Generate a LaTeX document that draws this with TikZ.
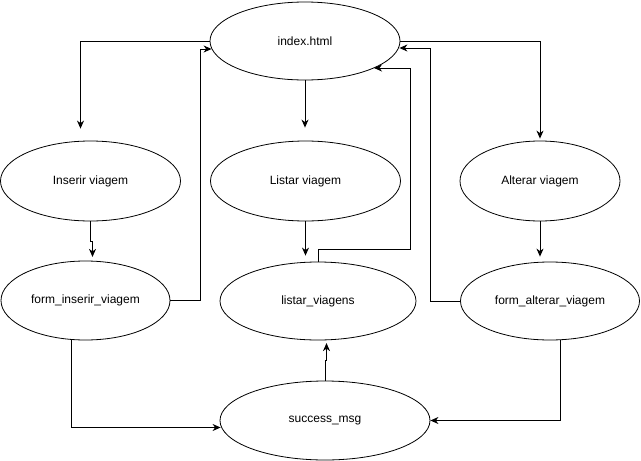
\documentclass[tikz,border=0pt]{standalone}
\usepackage{fontspec}
\setmainfont{Liberation Sans}
\usetikzlibrary{shapes.geometric,arrows.meta,calc}
\begin{document}
\begin{tikzpicture}[x=1pt,y=-1pt,
  page/.style={ellipse,draw,line width=0.8pt,inner sep=0pt,font=\fontsize{12}{14}\selectfont},
  arr/.style={draw,line width=1pt,-{Stealth[length=8pt,width=7pt,inset=2.5pt]}}]
\useasboundingbox (0,0) rectangle (641,461);

% pages
\node[page,minimum width=190pt,minimum height=78pt] (index) at (305,41) {index.html};
\node[page,minimum width=180pt,minimum height=80pt] (inserir) at (90.5,181) {Inserir viagem};
\node[page,minimum width=190pt,minimum height=80pt] (listar) at (305.5,181) {Listar viagem};
\node[page,minimum width=160pt,minimum height=80pt] (alterar) at (540,181) {Alterar viagem};
\node[page,minimum width=169pt,minimum height=79pt] (forminserir) at (85.5,300.5) {form\_inserir\_viagem};
\node[page,minimum width=196pt,minimum height=78pt] (listarv) at (318,301) {listar\_viagens};
\node[page,minimum width=179pt,minimum height=78pt] (formalterar) at (550,301) {form\_alterar\_viagem};
\node[page,minimum width=210pt,minimum height=79pt] (success) at (325,420.5) {success\_msg};

% from the index page
\draw[arr] (index.west) -| ($(inserir.north)+(-10,-12)$);
\draw[arr,shorten >=13pt] (index.south) -- (index.south |- listar.north);
\draw[arr,shorten >=2pt] (index.east) -| (alterar.north);

% choices to their pages
\draw[arr] (inserir.south) -- ++(0,20) -- ++(2,0) -- ++(0,15.5);
\draw[arr,shorten >=6pt] (listar.south) -- (listar.south |- listarv.north);
\draw[arr,shorten >=5pt] (alterar.south) -- (alterar.south |- formalterar.north);

% back to the index page
\draw[arr] (forminserir.east) -- ++(30,0) |- ($(index.west)+(2,8)$);
\draw[arr] (formalterar.west) -- ++(-30,0) |- ($(index.east)+(-1,7)$);
\draw[arr] (listarv.north) -- ++(0,-12) -- ++(92,0) |- ($(index.center)+(69,27)$);

% forms to the success message
\draw[arr] ($(forminserir.south)+(-14.5,0)$) |- ($(success.west)+(1,7)$);
\draw[arr] ($(formalterar.south)+(10,0)$) |- (success.east);
\draw[arr] (success.north) -- ++(0,-20) -- ++(1.5,0) -- ++(0,-17.5);
\end{tikzpicture}
\end{document}
